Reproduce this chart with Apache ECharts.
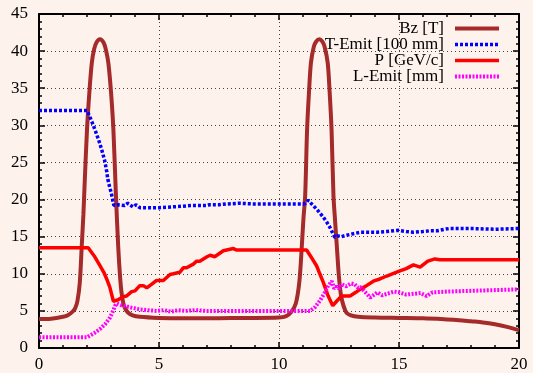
<!DOCTYPE html>
<html>
<head>
<meta charset="utf-8">
<script src="https://cdn.jsdelivr.net/npm/echarts@6/dist/echarts.min.js"></script>
<style>
html,body{margin:0;padding:0;background:#fdf2ec;}
#c{width:533px;height:373px;}
</style>
</head>
<body>
<div id="c"></div>
<script>
// Series names
const seriesNames = ['Bz [T]', 'T-Emit [100 mm]', 'P [GeV/c]', 'L-Emit [mm]'];
// Axis ticks
const xTicks = [0, 5, 10, 15, 20];
const yTicks = [0, 5, 10, 15, 20, 25, 30, 35, 40, 45];

// Bz [T]
const bzX = [0,0.5,1.0,1.2,1.4,1.5,1.6,1.7,1.78,1.85,1.9,2.0,2.1,2.2,2.3,2.4,2.54,2.7,2.8,2.89,3.0,3.1,3.2,3.3,3.38,3.45,3.55,3.7,3.9,4.2,5,6,7,8,9,10,10.3,10.5,10.7,10.85,10.95,11.02,11.09,11.17,11.25,11.33,11.45,11.55,11.68,11.8,11.9,12.03,12.11,12.19,12.27,12.34,12.41,12.5,12.6,12.8,13.0,13.3,14,15,16,17,17.5,18,18.5,19,19.5,20];
const bzY = [3.9,3.95,4.2,4.4,4.9,5.3,6.3,8.8,13.7,18,22,29.4,34.5,38.4,40.3,41.2,41.6,41.1,40.0,38.4,34.5,29.4,21,13.7,9.5,7.2,5.6,4.8,4.4,4.2,4.05,4.0,4.0,4.05,4.05,4.1,4.3,4.8,6.0,9,13.7,17.5,20.5,29.4,34.5,38.4,40.6,41.3,41.6,41.3,40.6,38.4,34.5,29.4,20.5,17,13.7,9.5,6.8,4.8,4.4,4.2,4.1,4.05,4.0,3.85,3.75,3.6,3.45,3.2,2.85,2.4];

// T-Emit [100 mm]
const teX = [0,1,2.0,2.1,2.25,2.4,2.53,2.65,2.74,2.82,2.87,2.95,3.01,3.08,3.12,3.3,3.57,3.7,3.78,3.91,4.05,4.2,4.6,5.0,5.5,6.0,6.4,7.0,7.1,7.5,7.8,8.35,9,10,10.5,11.0,11.1,11.22,11.3,11.45,11.57,11.7,11.85,12.0,12.13,12.25,12.33,12.45,12.6,12.82,13.1,13.4,13.8,14.1,14.5,14.97,15.3,15.6,16.0,16.3,16.6,16.9,17.1,18,19,20];
const teY = [32.0,32.0,32.0,31.3,30.1,28.8,27.6,26.3,25.2,23.8,22.7,21.6,20.9,19.8,19.2,19.3,19.2,19.5,19.4,19.0,19.3,18.9,18.9,18.9,19.0,19.1,19.2,19.2,19.3,19.3,19.4,19.5,19.4,19.4,19.4,19.4,19.5,19.9,19.7,19.1,18.7,18.2,17.6,16.9,16.2,15.4,14.9,15.1,15.0,15.2,15.4,15.6,15.6,15.6,15.7,15.85,15.7,15.6,15.7,15.8,15.8,16.0,16.1,16.1,16.0,16.1];

// P [GeV/c]
const pX = [0,1,2.05,2.3,2.54,2.7,2.82,2.95,3.1,3.3,3.5,3.65,3.86,4.0,4.2,4.35,4.49,4.7,4.9,5.18,5.46,5.6,5.87,6.01,6.15,6.43,6.57,6.7,7.0,7.13,7.33,7.5,7.68,7.96,8.1,8.24,9,10,11.15,11.35,11.57,11.7,11.85,12.05,12.24,12.4,12.61,12.96,13.2,13.38,13.6,13.93,14.2,14.49,14.8,15.04,15.3,15.6,15.88,16.2,16.5,16.7,17,18,19,20];
const pY = [13.5,13.5,13.5,12.4,11.1,10.2,9.3,8.2,6.3,6.5,6.9,7.0,7.6,7.7,8.4,8.4,8.1,8.6,9.1,9.1,9.9,10.0,10.2,10.8,10.8,11.3,11.7,11.7,12.3,12.5,12.3,12.7,13.1,13.3,13.4,13.2,13.2,13.2,13.2,12.2,11.05,10.0,8.8,7.0,5.7,6.3,7.0,7.0,7.5,7.9,8.3,9.0,9.3,9.7,10.1,10.4,10.7,11.2,10.9,11.7,12.0,11.9,11.9,11.9,11.9,11.9];

// L-Emit [mm]
const leX = [0,1,2.0,2.3,2.54,2.75,2.96,3.1,3.17,3.24,3.4,3.65,3.9,4.2,4.5,4.9,5.2,5.5,5.8,6.1,6.5,7.0,7.5,8.0,8.4,9,10,11.3,11.5,11.7,11.9,12.05,12.2,12.3,12.4,12.5,12.6,12.8,13.0,13.15,13.3,13.4,13.6,13.8,14.1,14.3,14.5,14.8,15.0,15.3,15.6,15.9,16.15,16.4,16.7,17,18,19,20];
const leY = [1.45,1.45,1.45,2.0,2.55,3.2,4.1,5.1,5.7,6.0,5.8,5.6,5.4,5.2,5.1,5.0,5.1,4.9,5.1,5.0,5.1,5.0,5.0,5.0,5.0,5.0,5.0,5.0,5.5,6.35,7.4,8.4,9.0,8.0,8.3,8.0,8.6,8.3,8.7,8.6,8.1,8.2,7.5,6.8,7.5,7.1,7.3,7.6,7.5,7.2,7.3,7.4,7.0,7.5,7.55,7.6,7.7,7.8,7.9];

function pairs(xs, ys) { return xs.map((x, i) => [x, ys[i]]); }

const font = 'Liberation Serif';
const colors = ['#a52a2a', '#0000ff', '#ff0000', '#ff00ff'];
const chart = echarts.init(document.getElementById('c'), null, {renderer: 'canvas'});

const axisCommonX = {
  type: 'value', min: xTicks[0], max: xTicks[xTicks.length - 1], interval: 5,
  axisLine: {show: true, onZero: false, lineStyle: {color: '#000', width: 2}},
  axisTick: {show: true, inside: true, length: 6, lineStyle: {color: '#000', width: 1.5}},
  minorTick: {show: true, splitNumber: 5, length: 3, lineStyle: {color: '#000', width: 1.5}}
};
const axisCommonY = {
  type: 'value', min: yTicks[0], max: yTicks[yTicks.length - 1], interval: 5,
  axisLine: {show: true, onZero: false, lineStyle: {color: '#000', width: 2}},
  axisTick: {show: true, inside: true, length: 6, lineStyle: {color: '#000', width: 1.5}},
  minorTick: {show: true, splitNumber: 5, length: 3, lineStyle: {color: '#000', width: 1.5}}
};

const magentaDash = [2, 1.5];
const legendWidths = [4, 3.5, 3.5, 4];
const legendDash = ['solid', [3, 2], 'solid', magentaDash];

const option = {
  animation: false,
  backgroundColor: '#fdf2ec',
  color: colors,
  grid: {left: 39, right: 14, top: 14, bottom: 24, containLabel: false},
  xAxis: [
    Object.assign({}, axisCommonX, {
      position: 'bottom',
      axisLabel: {fontFamily: font, fontSize: 17, color: '#000', margin: 8},
      splitLine: {show: true, lineStyle: {color: '#444', width: 1, type: [1, 3]}}
    }),
    Object.assign({}, axisCommonX, {
      position: 'top',
      axisLabel: {show: false},
      splitLine: {show: false}
    })
  ],
  yAxis: [
    Object.assign({}, axisCommonY, {
      position: 'left',
      axisLabel: {fontFamily: font, fontSize: 17, color: '#000', margin: 11},
      splitLine: {show: true, lineStyle: {color: '#444', width: 1, type: [1, 3]}}
    }),
    Object.assign({}, axisCommonY, {
      position: 'right',
      axisLabel: {show: false},
      splitLine: {show: false}
    })
  ],
  legend: {
    orient: 'vertical',
    right: 32,
    top: 20,
    padding: 0,
    align: 'right',
    itemWidth: 44,
    itemHeight: 12,
    itemGap: -1,
    itemStyle: {opacity: 0},
    textStyle: {fontFamily: font, fontSize: 17, color: '#000', padding: [0, 6, 0, 0]},
    data: seriesNames.map((n, i) => ({
      name: n,
      lineStyle: {color: colors[i], width: legendWidths[i], type: legendDash[i], opacity: 1}
    }))
  },
  series: [
    {
      name: seriesNames[0], type: 'line', data: pairs(bzX, bzY), showSymbol: false, symbol: 'none',
      smooth: 0.3, lineStyle: {color: colors[0], width: 4}, itemStyle: {color: colors[0]}
    },
    {
      name: seriesNames[1], type: 'line', data: pairs(teX, teY), showSymbol: false, symbol: 'none',
      lineStyle: {color: colors[1], width: 3.5, type: [3, 2]}, itemStyle: {color: colors[1]}
    },
    {
      name: seriesNames[2], type: 'line', data: pairs(pX, pY), showSymbol: false, symbol: 'none',
      lineStyle: {color: colors[2], width: 3.5}, itemStyle: {color: colors[2]}
    },
    {
      name: seriesNames[3], type: 'line', data: pairs(leX, leY), showSymbol: false, symbol: 'none',
      lineStyle: {color: colors[3], width: 4, type: magentaDash}, itemStyle: {color: colors[3]}
    }
  ]
};
chart.setOption(option);
</script>
</body>
</html>
